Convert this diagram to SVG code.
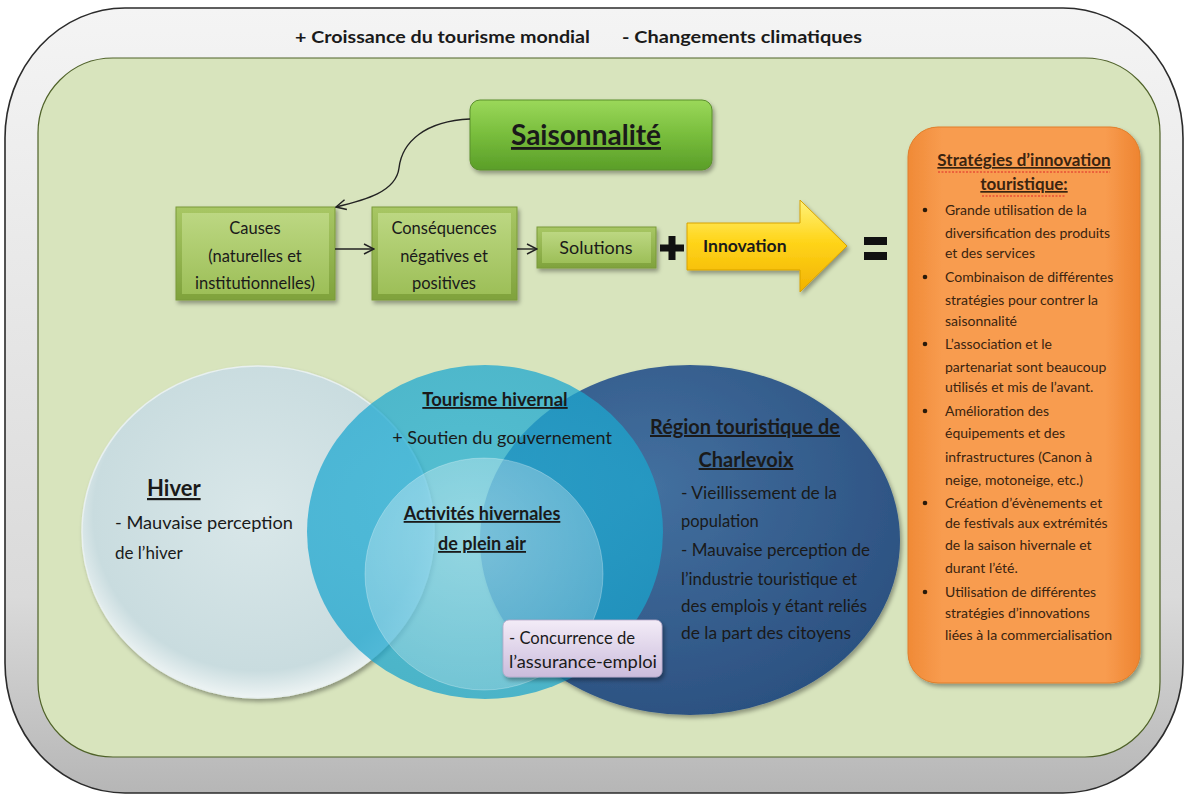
<svg xmlns="http://www.w3.org/2000/svg" width="1190" height="796" viewBox="0 0 1190 796">
<style>
.t{font-family:Lato,"Liberation Sans",sans-serif;fill:#1a1a1a}
.b{font-weight:bold}
.u{text-decoration:underline}
.c{text-anchor:middle}
.ot{font-family:Lato,"Liberation Sans",sans-serif;fill:#3a2410;font-size:14px}
.conn{fill:none;stroke:#222;stroke-width:1.4}
</style>
<defs>
<linearGradient id="gOuter" x1="0" y1="0" x2="0" y2="1">
<stop offset="0" stop-color="#f4f4f4"/><stop offset="0.75" stop-color="#dadada"/><stop offset="1" stop-color="#b6b6b6"/>
</linearGradient>
<linearGradient id="gBoxO" x1="0" y1="0" x2="0" y2="1">
<stop offset="0" stop-color="#a8c764"/><stop offset="1" stop-color="#7fa23c"/>
</linearGradient>
<linearGradient id="gBoxI" x1="0" y1="0" x2="0" y2="1">
<stop offset="0" stop-color="#bcd782"/><stop offset="1" stop-color="#9dbf58"/>
</linearGradient>
<linearGradient id="gSais" x1="0" y1="0" x2="0" y2="1">
<stop offset="0" stop-color="#9bd85a"/><stop offset="0.5" stop-color="#78bd3c"/><stop offset="1" stop-color="#5a9e28"/>
</linearGradient>
<linearGradient id="gOrange" x1="0" y1="0" x2="1" y2="0">
<stop offset="0" stop-color="#f08a36"/><stop offset="0.15" stop-color="#f89c50"/><stop offset="0.85" stop-color="#f89c50"/><stop offset="1" stop-color="#ee8430"/>
</linearGradient>
<linearGradient id="gYellow" x1="0" y1="0" x2="0" y2="1">
<stop offset="0" stop-color="#fff27a"/><stop offset="0.45" stop-color="#ffd51a"/><stop offset="1" stop-color="#f2b200"/>
</linearGradient>
<linearGradient id="gPurple" x1="0" y1="0" x2="0" y2="1">
<stop offset="0" stop-color="#f3ecf7"/><stop offset="1" stop-color="#cbbcdc"/>
</linearGradient>
<radialGradient id="rHiver" cx="0.5" cy="0.45" r="0.55">
<stop offset="0" stop-color="#d9e7e9"/><stop offset="0.85" stop-color="#c9dcdf"/><stop offset="1" stop-color="#eef4f4"/>
</radialGradient>
<radialGradient id="rCyan" cx="0.45" cy="0.4" r="0.6">
<stop offset="0" stop-color="#26b2d8"/><stop offset="1" stop-color="#1aa3cc"/>
</radialGradient>
<radialGradient id="rBlue" cx="0.4" cy="0.35" r="0.7">
<stop offset="0" stop-color="#43709f"/><stop offset="1" stop-color="#2b5080"/>
</radialGradient>
<radialGradient id="rAct" cx="0.45" cy="0.35" r="0.65">
<stop offset="0" stop-color="#ffffff" stop-opacity="0.38"/><stop offset="1" stop-color="#ffffff" stop-opacity="0.22"/>
</radialGradient>
<filter id="sh" x="-10%" y="-10%" width="130%" height="130%">
<feDropShadow dx="2" dy="3" stdDeviation="2" flood-color="#000" flood-opacity="0.35"/>
</filter>
<marker id="arr" viewBox="0 0 12 12" refX="11" refY="6" markerWidth="12" markerHeight="12" markerUnits="userSpaceOnUse" orient="auto">
<path d="M1,1 L11,6 L1,11" fill="none" stroke="#222" stroke-width="1.5"/>
</marker>
</defs>

<g id="frame-outer">
<rect x="5" y="8" width="1178" height="785" rx="120" ry="130" fill="url(#gOuter)" stroke="#2b2b2b" stroke-width="1.6"/>
<text class="t b" x="295" y="43" font-size="17" textLength="295" lengthAdjust="spacingAndGlyphs">+ Croissance du tourisme mondial</text>
<text class="t b" x="622" y="43" font-size="17" textLength="240" lengthAdjust="spacingAndGlyphs">- Changements climatiques</text>
</g>

<g id="frame-inner">
<rect x="38" y="58" width="1122" height="699" rx="75" ry="75" fill="#d8e4bd" stroke="#4f6228" stroke-width="1.2"/>
</g>

<g id="saisonnalite">
<rect x="470" y="100" width="242" height="70" rx="10" fill="url(#gSais)" stroke="#5a8f2a" stroke-width="1" filter="url(#sh)"/>
<text class="t b u c" x="586" y="145" font-size="28">Saisonnalité</text>
</g>

<g id="causes">
<rect x="176" y="207" width="159" height="93" fill="url(#gBoxO)" stroke="#7a9a3a" stroke-width="1" filter="url(#sh)"/>
<rect x="182" y="213" width="147" height="81" fill="url(#gBoxI)"/>
<text class="t c" x="255" y="234" font-size="16.5">Causes</text>
<text class="t c" x="255" y="262" font-size="16.5">(naturelles et</text>
<text class="t c" x="255" y="289" font-size="16.5">institutionnelles)</text>
</g>

<g id="consequences">
<rect x="372" y="207" width="145" height="93" fill="url(#gBoxO)" stroke="#7a9a3a" stroke-width="1" filter="url(#sh)"/>
<rect x="378" y="213" width="133" height="81" fill="url(#gBoxI)"/>
<text class="t c" x="444" y="234" font-size="16.5">Conséquences</text>
<text class="t c" x="444" y="262" font-size="16.5">négatives et</text>
<text class="t c" x="444" y="289" font-size="16.5">positives</text>
</g>

<g id="solutions">
<rect x="537" y="227" width="119" height="41" fill="url(#gBoxO)" stroke="#7a9a3a" stroke-width="1" filter="url(#sh)"/>
<rect x="542" y="232" width="109" height="31" fill="url(#gBoxI)"/>
<text class="t c" x="596" y="254" font-size="18">Solutions</text>
</g>

<g id="plus">
<rect x="660" y="244.5" width="24" height="7" fill="#111"/>
<rect x="668.5" y="236" width="7" height="24" fill="#111"/>
</g>

<g id="innovation">
<polygon points="687,223 800,223 800,200 847,246 800,292 800,270 687,270" fill="url(#gYellow)" stroke="#d8a200" stroke-width="1" filter="url(#sh)"/>
<text class="t b" x="703" y="252" font-size="17.5">Innovation</text>
</g>

<g id="equals">
<rect x="864" y="237" width="23" height="8" fill="#111"/>
<rect x="864" y="252" width="23" height="8" fill="#111"/>
</g>

<g id="strategies">
<rect x="908" y="127" width="232" height="556" rx="30" ry="30" fill="url(#gOrange)" stroke="#e07e2a" stroke-width="1" filter="url(#sh)"/>
<text class="t b u c" x="1024" y="166" font-size="17" style="fill:#3a2410">Stratégies d’innovation</text>
<path d="M938,172 L1110,172" stroke="#e02828" stroke-width="1" stroke-dasharray="2,1.5"/>
<text class="t b u c" x="1024" y="190" font-size="17" style="fill:#3a2410">touristique:</text>
<path d="M982,196 L1066,196" stroke="#e02828" stroke-width="1" stroke-dasharray="2,1.5"/>
<g fill="#2a1a0a">
<circle cx="925" cy="210" r="2.3"/><circle cx="925" cy="277" r="2.3"/><circle cx="925" cy="344" r="2.3"/>
<circle cx="925" cy="411" r="2.3"/><circle cx="925" cy="503" r="2.3"/><circle cx="925" cy="592" r="2.3"/>
</g>
<text class="ot" x="945" y="215">Grande utilisation  de la</text>
<text class="ot" x="945" y="238">diversification  des produits</text>
<text class="ot" x="945" y="258">et des services</text>
<text class="ot" x="945" y="282">Combinaison  de différentes</text>
<text class="ot" x="945" y="305">stratégies  pour contrer la</text>
<text class="ot" x="945" y="326">saisonnalité</text>
<text class="ot" x="945" y="349">L’association  et le</text>
<text class="ot" x="945" y="372">partenariat sont  beaucoup</text>
<text class="ot" x="945" y="392">utilisés  et mis de l’avant.</text>
<text class="ot" x="945" y="416">Amélioration  des</text>
<text class="ot" x="945" y="438">équipements  et des</text>
<text class="ot" x="945" y="462">infrastructures  (Canon à</text>
<text class="ot" x="945" y="485">neige, motoneige,  etc.)</text>
<text class="ot" x="945" y="508">Création d’évènements  et</text>
<text class="ot" x="945" y="528">de festivals aux extrémités</text>
<text class="ot" x="945" y="550">de la saison hivernale  et</text>
<text class="ot" x="945" y="573">durant  l’été.</text>
<text class="ot" x="945" y="597">Utilisation  de différentes</text>
<text class="ot" x="945" y="618">stratégies  d’innovations</text>
<text class="ot" x="945" y="640" textLength="167" lengthAdjust="spacingAndGlyphs">liées à la commercialisation</text>
</g>

<g id="hiver">
<ellipse cx="258" cy="532" rx="176" ry="166" fill="url(#rHiver)" stroke="#e8f0f0" stroke-width="1.5" filter="url(#sh)"/>
</g>

<g id="charlevoix">
<ellipse cx="690" cy="540" rx="210" ry="175" fill="url(#rBlue)" filter="url(#sh)"/>
</g>

<g id="tourisme-hivernal">
<ellipse cx="485" cy="532" rx="178" ry="167" fill="url(#rCyan)" fill-opacity="0.74"/>
</g>

<g id="activites">
<ellipse cx="484" cy="574" rx="119" ry="116" fill="url(#rAct)" stroke="#ffffff" stroke-opacity="0.25" stroke-width="1"/>
</g>

<g id="venn-text">
<text class="t b u" x="147" y="496" font-size="22">Hiver</text>
<text class="t" x="115" y="529" font-size="17" textLength="178" lengthAdjust="spacingAndGlyphs">- Mauvaise perception</text>
<text class="t" x="115" y="559" font-size="17">de l’hiver</text>
<text class="t b u c" x="495" y="406" font-size="18.5">Tourisme hivernal</text>
<text class="t c" x="502" y="444" font-size="18">+ Soutien du gouvernement</text>
<text class="t b u c" x="482" y="520" font-size="18">Activités hivernales</text>
<text class="t b u c" x="482" y="550" font-size="18">de plein air</text>
<text class="t b u" x="650" y="434" font-size="20" textLength="190" lengthAdjust="spacingAndGlyphs">Région touristique de</text>
<text class="t b u c" x="746" y="467" font-size="20">Charlevoix</text>
<text class="t" x="681" y="499" font-size="16.5" textLength="156" lengthAdjust="spacingAndGlyphs">-  Vieillissement de la</text>
<text class="t" x="681" y="527" font-size="16.5">population</text>
<text class="t" x="681" y="556" font-size="16.5" textLength="189" lengthAdjust="spacingAndGlyphs">-  Mauvaise perception de</text>
<text class="t" x="681" y="585" font-size="16.5" textLength="176" lengthAdjust="spacingAndGlyphs">l’industrie touristique et</text>
<text class="t" x="681" y="612" font-size="16.5" textLength="186" lengthAdjust="spacingAndGlyphs">des emplois y étant reliés</text>
<text class="t" x="681" y="639" font-size="16.5" textLength="170" lengthAdjust="spacingAndGlyphs">de la part des citoyens</text>
</g>

<g id="concurrence">
<rect x="503" y="620" width="159" height="57" rx="6" fill="url(#gPurple)" stroke="#b8a8c8" stroke-width="0.8" filter="url(#sh)"/>
<text class="t" x="509" y="644" font-size="17" textLength="126" lengthAdjust="spacingAndGlyphs">- Concurrence de</text>
<text class="t" x="509" y="668" font-size="17" textLength="148" lengthAdjust="spacingAndGlyphs">l’assurance-emploi</text>
</g>

<g id="connectors">
<path class="conn" d="M470,119 C425,121 402,142 399,168 C396,192 365,200 336,207" marker-end="url(#arr)"/>
<path class="conn" d="M335,249 L374,249" marker-end="url(#arr)"/>
<path class="conn" d="M517,249 L537,249" marker-end="url(#arr)"/>
</g>
</svg>
